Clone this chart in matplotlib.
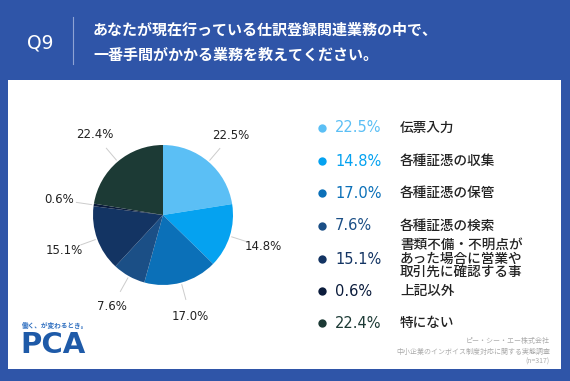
import matplotlib
matplotlib.use("Agg")
import matplotlib.pyplot as plt
import numpy as np

plt.rcParams['font.family'] = ['Noto Sans CJK JP', 'DejaVu Sans']

categories = ["伝票入力", "各種証憑の収集", "各種証憑の保管", "各種証憑の検索",
              "書類不備・不明点が\nあった場合に営業や\n取引先に確認する事", "上記以外", "特にない"]
values = [22.5, 14.8, 17.0, 7.6, 15.1, 0.6, 22.4]
colors = ["#5bbff5", "#05a2f0", "#0b70b8", "#1b4f86", "#133463", "#0b1c3c", "#1c3a35"]
title_lines = ["あなたが現在行っている仕訳登録関連業務の中で、", "一番手間がかかる業務を教えてください。"]
source_lines = ["ピー・シー・エー株式会社", "中小企業のインボイス制度対応に関する実態調査", "(n=317)"]

W, H = 570, 381
fig = plt.figure(figsize=(W / 100, H / 100), dpi=100)
fig.patch.set_facecolor("#2f55a8")

bg = fig.add_axes([0, 0, 1, 1])
bg.set_xlim(0, W)
bg.set_ylim(H, 0)
bg.axis("off")
bg.add_patch(plt.Rectangle((8, 80), 553, 289, facecolor="white", edgecolor="none"))

# header
bg.text(40, 43, "Q9", color="white", fontsize=13.5, va="center", ha="center", family=["DejaVu Sans"])
bg.plot([73, 73], [17, 64], color="#8ea3d4", lw=0.8)
bg.text(93, 30, title_lines[0], color="white", fontsize=10.8, va="center", ha="left", fontweight="bold")
bg.text(93, 55, title_lines[1], color="white", fontsize=10.8, va="center", ha="left", fontweight="bold")

# pie
cx, cy, r = 163, 215, 70
pax = fig.add_axes([(cx - r) / W, 1 - (cy + r) / H, 2 * r / W, 2 * r / H])
wedges, _ = pax.pie(values, colors=colors, startangle=90, counterclock=False,
                    radius=1, wedgeprops=dict(linewidth=0))
pax.set_xlim(-1, 1)
pax.set_ylim(-1, 1)
pax.set_aspect("equal")
pax.axis("off")
for w, v in zip(wedges, values):
    ang = np.deg2rad((w.theta1 + w.theta2) / 2)
    x0, y0 = np.cos(ang), np.sin(ang)
    pax.plot([1.03 * x0, 1.25 * x0], [1.03 * y0, 1.25 * y0], color="#cccccc", lw=0.7, clip_on=False)
    pax.text(1.5 * x0, 1.5 * y0, f"{v:.1f}%", ha="center", va="center", fontsize=8.5,
             color="#222222", clip_on=False, family=["DejaVu Sans"])

# legend
rows_y = [128, 161, 193, 226, 259, 291, 323]
for yy, c, v, lab in zip(rows_y, colors, values, categories):
    bg.scatter([322], [yy], s=36, color=c, zorder=3, linewidths=0)
    bg.text(335, yy, f"{v:.1f}%", color=c, fontsize=10.5, va="center", ha="left",
            family=["DejaVu Sans"])
    bg.text(400, yy, lab, color="#222222", fontsize=9.8, va="center", ha="left",
            fontweight="medium", linespacing=0.98)

# source
for i, s in enumerate(source_lines):
    bg.text(550, 341 + i * 10.5, s, color="#aaaaaa", fontsize=5, ha="right", va="center")

# logo
bg.text(22, 325, "働く、が変わるとき。", color="#2f6fc0", fontsize=4.8, ha="left", va="center", fontweight="bold")
bg.text(20, 345, "PCA", color="#1e5aa8", fontsize=21, ha="left", va="center", fontweight="bold",
        family=["DejaVu Sans"])

fig.savefig("out.png", dpi=100, facecolor=fig.get_facecolor())
